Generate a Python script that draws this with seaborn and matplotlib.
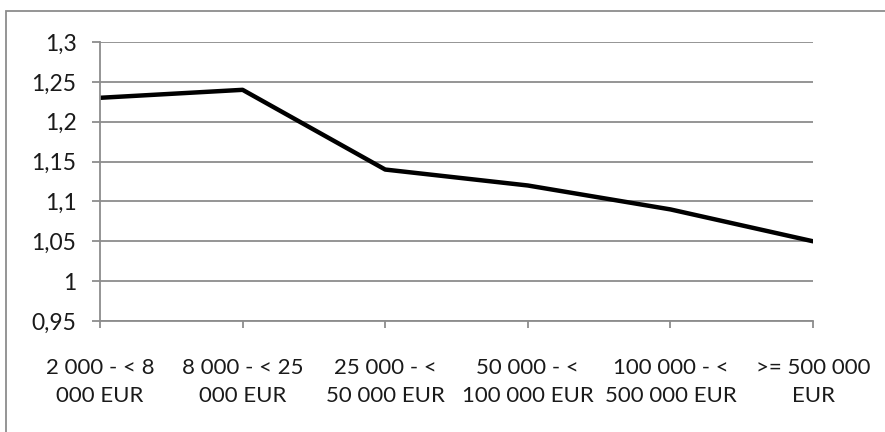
import seaborn as sns
import pandas as pd
import matplotlib.pyplot as plt
from matplotlib.ticker import FuncFormatter
from matplotlib.patches import Rectangle

# данные
categories = ['2 000 - < 8\n000 EUR', '8 000 - < 25\n000 EUR', '25 000 - <\n50 000 EUR',
              '50 000 - <\n100 000 EUR', '100 000 - <\n500 000 EUR', '>= 500 000\nEUR']
values = [1.23, 1.24, 1.14, 1.12, 1.09, 1.05]
yticks = [0.95, 1.0, 1.05, 1.1, 1.15, 1.2, 1.25, 1.3]

df = pd.DataFrame({'cat': categories, 'val': values})

sns.set_style('white')
plt.rcParams['font.family'] = ['Lato', 'DejaVu Sans']

fig = plt.figure(figsize=(8.85, 4.32), dpi=100)
ax = fig.add_axes([100/885, 1 - 321/432, 713/885, 279/432])

sns.lineplot(data=df, x='cat', y='val', color='black', linewidth=3.2, sort=False, ax=ax)

ax.set_xlim(0, len(categories) - 1)
ax.set_ylim(0.95, 1.3)
ax.set_yticks(yticks)
ax.yaxis.set_major_formatter(FuncFormatter(lambda v, p: f'{round(v, 2):g}'.replace('.', ',')))
ax.grid(axis='y', color='#8c8c8c', linewidth=1.3)
ax.set_axisbelow(True)

for s in ['top', 'right']:
    ax.spines[s].set_visible(False)
for s in ['left', 'bottom']:
    ax.spines[s].set_color('#8c8c8c')
    ax.spines[s].set_linewidth(1.3)

ax.tick_params(axis='y', direction='out', length=6, width=1.3, color='#8c8c8c',
               labelsize=16.5, labelcolor='#1a1a1a', pad=11, left=True)
ax.tick_params(axis='x', direction='out', length=5, width=1.3, color='#8c8c8c',
               labelsize=16, labelcolor='#1a1a1a', pad=22, bottom=True)
for t in ax.get_xticklabels():
    t.set_linespacing(1.45)

ax.set_xlabel('')
ax.set_ylabel('')

# рамка
fig.patches.append(Rectangle((6/885, -0.1), 1.1, 1 - 11/432 + 0.1, transform=fig.transFigure,
                             fill=False, edgecolor='#8c8c8c', linewidth=1.3))

fig.savefig('out.png', dpi=100)
